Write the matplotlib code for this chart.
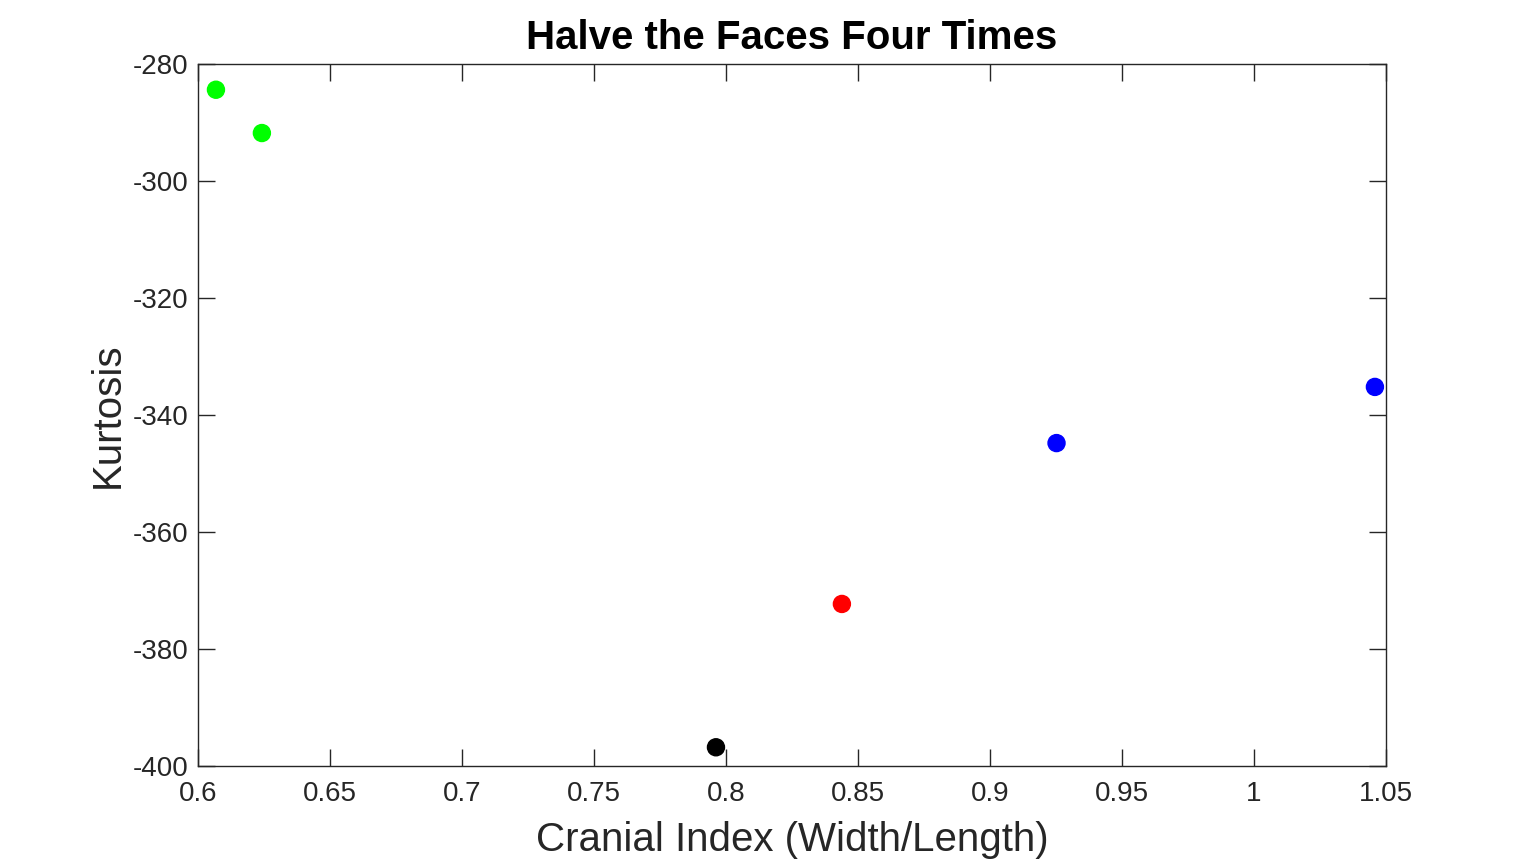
import matplotlib
matplotlib.use("Agg")
import matplotlib.pyplot as plt

plt.rcParams['font.family'] = ['Liberation Sans', 'DejaVu Sans']
plt.rcParams['axes.unicode_minus'] = False

cranial_index = [0.6068, 0.6242, 0.7962, 0.8439, 0.9252, 1.0458]
kurtosis = [-284.4, -291.8, -396.8, -372.3, -344.8, -335.2]
colors = ['#00ff00', '#00ff00', '#000000', '#ff0000', '#0000ff', '#0000ff']

xticks = [0.6, 0.65, 0.7, 0.75, 0.8, 0.85, 0.9, 0.95, 1.0, 1.05]
xticklabels = ['0.6', '0.65', '0.7', '0.75', '0.8', '0.85', '0.9', '0.95', '1', '1.05']
yticks = [-400, -380, -360, -340, -320, -300, -280]
yticklabels = ['-400', '-380', '-360', '-340', '-320', '-300', '-280']

fig = plt.figure(figsize=(15.32, 8.61), dpi=100)
ax = fig.add_axes([198/1532, 95/861, 1188/1532, 702/861])

ax.scatter(cranial_index, kurtosis, c=colors, s=150, edgecolors=colors, linewidths=1, zorder=3)

ax.set_xlim(0.6, 1.05)
ax.set_ylim(-400, -280)
ax.set_xticks(xticks)
ax.set_xticklabels(xticklabels)
ax.set_yticks(yticks)
ax.set_yticklabels(yticklabels)
ax.tick_params(direction='in', top=True, right=True, length=12, width=1,
               labelsize=20, labelcolor='#262626', color='#262626')
ax.tick_params(axis='x', pad=11)
ax.tick_params(axis='y', pad=7)
for s in ax.spines.values():
    s.set_color('#262626')
    s.set_linewidth(1)

ax.set_xlabel('Cranial Index (Width/Length)', fontsize=29, color='#262626', labelpad=10)
ax.set_ylabel('Kurtosis', fontsize=29, color='#262626', labelpad=4)
ax.set_title('Halve the Faces Four Times', fontsize=29, fontweight='bold', color='black', pad=11)

fig.savefig('out.png', dpi=100)
